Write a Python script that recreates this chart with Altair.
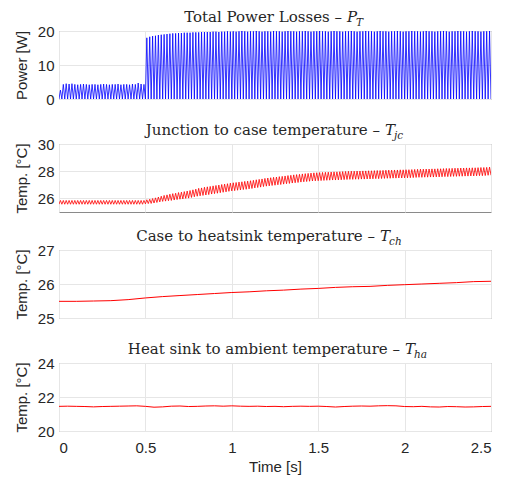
import altair as alt
import pandas as pd

# ---------------- data ----------------
pulse_period = 1.0 / 60.0          # one loss pulse per cycle [s]
t_end = 2.5

# peak power of every pulse [W]
power_peak = (
    [2.6, 4.3, 4.5, 4.4, 4.5, 4.3, 4.2, 4.3, 4.4, 4.3,
     4.2, 4.3, 4.3, 4.2, 4.3, 4.4, 4.3, 4.2, 4.3, 4.3,
     4.4, 4.2, 4.3, 4.3, 4.2, 4.4, 4.3, 4.7, 4.4, 4.3,
     18.0, 18.3, 18.5, 18.6, 18.8, 18.9, 19.0, 19.1, 19.2, 19.3,
     19.3, 19.4, 19.4, 19.5, 19.5, 19.5, 19.6, 19.6, 19.6, 19.7,
     19.7, 19.7, 19.7, 19.8, 19.8, 19.7, 19.8, 19.8, 19.9, 19.8,
     19.9, 19.8, 19.9, 20.0, 19.9, 19.8, 19.9, 19.9, 20.0, 19.9,
     19.8, 19.9, 19.9, 19.8, 20.0, 19.9, 19.9, 19.8, 19.9, 20.0,
     19.9, 19.9, 19.8, 19.9, 19.9, 20.0, 19.9, 19.8, 19.9, 19.9,
     20.0, 19.9, 19.9, 19.8, 19.9, 20.0, 19.9, 19.9, 19.8, 19.9,
     19.9, 20.0, 19.9, 19.8, 19.9, 19.9, 20.0, 19.9, 19.9, 19.8,
     19.9, 20.0, 19.9, 19.9, 19.8, 19.9, 19.9, 20.0, 19.9, 19.8,
     19.9, 19.9, 20.0, 19.9, 19.9, 19.8, 19.9, 20.0, 19.9, 19.9,
     19.8, 19.9, 19.9, 20.0, 19.9, 19.8, 19.9, 19.9, 20.0, 19.9,
     19.9, 19.8, 19.9, 20.0, 19.9, 19.9, 19.8, 19.9, 19.9, 20.0]
)

# junction-to-case temperature: centre of each cycle's swing [degC]
jc_mid = (
    [25.71] * 30 +
    [25.75, 25.78, 25.81, 25.85, 25.90, 25.95, 26.00, 26.03, 26.07, 26.10,
     26.13, 26.17, 26.20, 26.23, 26.27, 26.30, 26.35, 26.40, 26.45, 26.48,
     26.52, 26.55, 26.58, 26.62, 26.65, 26.68, 26.72, 26.75, 26.78, 26.82,
     26.85, 26.87, 26.90, 26.92, 26.95, 26.97, 27.00, 27.03, 27.07, 27.10,
     27.13, 27.17, 27.20, 27.22, 27.25, 27.27, 27.30, 27.32, 27.35, 27.38,
     27.40, 27.43, 27.45, 27.47, 27.50, 27.52, 27.54, 27.56, 27.58, 27.59,
     27.60, 27.61, 27.62, 27.63, 27.64, 27.65, 27.65, 27.66, 27.67, 27.68,
     27.69, 27.70, 27.70, 27.71, 27.71, 27.72, 27.72, 27.73, 27.73, 27.74,
     27.75, 27.75, 27.76, 27.77, 27.78, 27.78, 27.79, 27.79, 27.80, 27.80,
     27.81, 27.81, 27.82, 27.83, 27.84, 27.85, 27.85, 27.86, 27.86, 27.87,
     27.87, 27.88, 27.88, 27.89, 27.90, 27.90, 27.91, 27.92, 27.92, 27.93,
     27.93, 27.94, 27.94, 27.95, 27.95, 27.96, 27.97, 27.97, 27.98, 28.00]
)
# half peak-to-peak swing of each cycle [degC]
jc_swing = (
    [0.14] * 30 +
    [0.15, 0.16, 0.18, 0.19, 0.20, 0.21, 0.22, 0.23, 0.24, 0.25,
     0.25, 0.26, 0.26, 0.27, 0.27, 0.28, 0.28, 0.28, 0.29, 0.29] +
    [0.30] * 100
)

ch_time = [0.0, 0.1, 0.2, 0.3, 0.4, 0.5, 0.6, 0.7, 0.8, 0.9, 1.0, 1.1, 1.2,
           1.3, 1.4, 1.5, 1.6, 1.7, 1.8, 1.9, 2.0, 2.1, 2.2, 2.3, 2.4, 2.5]
ch_temp = [25.49, 25.49, 25.50, 25.51, 25.54, 25.59, 25.63, 25.66, 25.69,
           25.72, 25.75, 25.77, 25.80, 25.82, 25.85, 25.87, 25.90, 25.92,
           25.93, 25.96, 25.98, 26.00, 26.02, 26.04, 26.07, 26.08]

ha_time = [0.0, 0.05, 0.1, 0.15, 0.2, 0.25, 0.3, 0.35, 0.4, 0.45,
           0.5, 0.55, 0.6, 0.65, 0.7, 0.75, 0.8, 0.85, 0.9, 0.95,
           1.0, 1.05, 1.1, 1.15, 1.2, 1.25, 1.3, 1.35, 1.4, 1.45,
           1.5, 1.55, 1.6, 1.65, 1.7, 1.75, 1.8, 1.85, 1.9, 1.95,
           2.0, 2.05, 2.1, 2.15, 2.2, 2.25, 2.3, 2.35, 2.4, 2.45, 2.5]
ha_temp = [21.45, 21.46, 21.45, 21.44, 21.42, 21.44, 21.45, 21.46, 21.47, 21.48,
           21.45, 21.40, 21.42, 21.46, 21.47, 21.44, 21.45, 21.47, 21.48, 21.46,
           21.48, 21.46, 21.45, 21.46, 21.44, 21.45, 21.43, 21.45, 21.46, 21.45,
           21.46, 21.44, 21.41, 21.44, 21.46, 21.47, 21.46, 21.48, 21.49, 21.48,
           21.44, 21.43, 21.45, 21.42, 21.41, 21.44, 21.43, 21.41, 21.42, 21.44,
           21.45]

x_ticks = [0, 0.5, 1, 1.5, 2, 2.5]

# ---------------- tables ----------------
p_rows = []
for k, pk in enumerate(power_peak):
    t0 = k * pulse_period
    p_rows.append({"t": round(t0, 5), "v": 0.0})
    p_rows.append({"t": round(t0 + pulse_period / 2, 5), "v": pk})
p_rows.append({"t": t_end, "v": 0.0})
power_df = pd.DataFrame(p_rows)

j_rows = []
for k, (m, s) in enumerate(zip(jc_mid, jc_swing)):
    t0 = k * pulse_period
    j_rows.append({"t": round(t0, 5), "v": round(m - s, 3)})
    j_rows.append({"t": round(t0 + pulse_period / 2, 5), "v": round(m + s, 3)})
j_rows.append({"t": t_end, "v": round(jc_mid[-1] - jc_swing[-1], 3)})
jc_df = pd.DataFrame(j_rows)

ch_df = pd.DataFrame({"t": ch_time, "v": ch_temp})
ha_df = pd.DataFrame({"t": ha_time, "v": ha_temp})

W, H = 432, 68
TXT = "#262626"
FRAME = "#8a8a8a"
SANS = "Liberation Sans, Arial, Helvetica, sans-serif"
SERIF = "DejaVu Serif"
one = pd.DataFrame({"a": [0]})


def panel(df, color, sw, domain, yticks, ytitle, main, sym, sub, sym_x, bottom):
    xaxis = alt.Axis(values=x_ticks, labels=bottom, grid=True,
                     labelPadding=9, titlePadding=4, format="~g")
    line = alt.Chart(df).mark_line(color=color, strokeWidth=sw, clip=True).encode(
        x=alt.X("t:Q", scale=alt.Scale(domain=[0, t_end], nice=False, zero=False),
                axis=xaxis, title="Time [s]" if bottom else None),
        y=alt.Y("v:Q", scale=alt.Scale(domain=domain, nice=False, zero=False),
                axis=alt.Axis(values=yticks, grid=True, labelPadding=5,
                              titlePadding=8, format="~g"),
                title=ytitle),
    )
    t_main = alt.Chart(one).mark_text(
        text=main, font=SERIF, fontSize=15, align="right",
        baseline="alphabetic", color=TXT
    ).encode(x=alt.value(sym_x - 5), y=alt.value(-9))
    t_sym = alt.Chart(one).mark_text(
        text=sym, font=SERIF, fontSize=15, fontStyle="italic", align="left",
        baseline="alphabetic", color=TXT
    ).encode(x=alt.value(sym_x), y=alt.value(-9))
    t_sub = alt.Chart(one).mark_text(
        text=sub, font=SERIF, fontSize=10.5, fontStyle="italic", align="left",
        baseline="alphabetic", color=TXT
    ).encode(x=alt.value(sym_x + 9), y=alt.value(-5))
    return alt.layer(line, t_main, t_sym, t_sub).properties(width=W, height=H)


p1 = panel(power_df, "#0000ff", 0.8, [0, 20], [0, 10, 20], "Power [W]",
           "Total Power Losses –", "P", "T", 288, False)
p2 = panel(jc_df, "#ff0000", 0.8, [25, 30], [26, 28, 30], "Temp. [°C]",
           "Junction to case temperature –", "T", "jc", 326, False)
p3 = panel(ch_df, "#ff0000", 1.0, [25, 27], [25, 26, 27], "Temp. [°C]",
           "Case to heatsink temperature –", "T", "ch", 321, False)
p4 = panel(ha_df, "#ff0000", 1.0, [20, 24], [20, 22, 24], "Temp. [°C]",
           "Heat sink to ambient temperature –", "T", "ha", 346, True)

chart = alt.vconcat(p1, p2, p3, p4, spacing=14).properties(
    padding={"left": 5, "top": 1, "right": 0, "bottom": 0}
).configure_view(
    stroke=FRAME, strokeWidth=1
).configure_axis(
    labelFont=SANS, labelFontSize=15, labelColor=TXT,
    titleFont=SANS, titleFontSize=15, titleFontWeight="normal",
    titleColor=TXT, gridColor="#e6e6e6", gridWidth=1, domain=False, ticks=False
)

chart.save("out.html", embed_options={"renderer": "svg", "actions": False})
